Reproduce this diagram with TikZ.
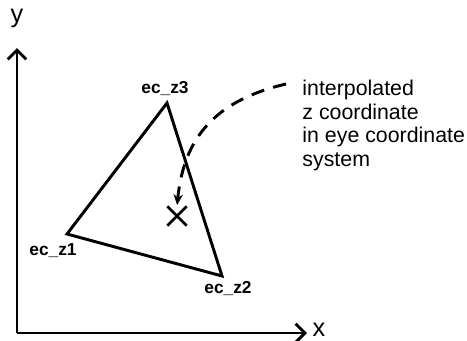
\documentclass[tikz,border=0pt]{standalone}
\usepackage{fontspec}
\setmainfont{Liberation Sans}
\usetikzlibrary{arrows.meta,positioning,calc,shapes.misc}

\begin{document}
\begin{tikzpicture}[x=0.75pt, y=-0.75pt, line width=2.2pt,
        vlabel/.style={font=\fontsize{13}{15}\selectfont\bfseries, inner sep=1pt},
        axlabel/.style={font=\fontsize{19}{21}\selectfont, inner sep=0pt}]
        \useasboundingbox (0,0) rectangle (467,340);

        % axes
        \coordinate (orig) at (17,333);
        \coordinate (xend) at (307,333);
        \coordinate (yend) at (17,48);
        \draw[-{Straight Barb[length=7pt, width=14pt]}] (orig) -- (yend);
        \draw[-{Straight Barb[length=7pt, width=14pt]}] (orig) -- (xend);
        \node[axlabel] (ylab) at (17,18) {y};
        \node[axlabel] (xlab) at (319,330) {x};

        % triangle
        \coordinate (z1) at (67,234);
        \coordinate (z2) at (222,276);
        \coordinate (z3) at (167,103);
        \draw[line join=miter] (z1) -- (z2) -- (z3) -- cycle;
        \node[vlabel] (z1lab) at (53,251) {ec\_z1};
        \node[vlabel] (z2lab) at (228,288) {ec\_z2};
        \node[vlabel] (z3lab) at (165,89) {ec\_z3};

        % interpolated point
        \node[cross out, draw, minimum size=12.5pt, inner sep=0pt, line width=2pt] (pt) at (177,216) {};

        \node[font=\fontsize{16}{17.6}\selectfont, align=left, anchor=north west, inner sep=0pt] (note) at (301,79)
            {interpolated\\z coordinate\\in eye coordinate\\system};

        \coordinate (dstart) at ($(note.north west)+(-15,5)$);
        \draw[dash pattern=on 10pt off 7pt, shorten >=1pt, -{Stealth[length=8pt, width=7pt]}]
            (dstart) .. controls (218,100) and (184,135) .. (pt.north);
    \end{tikzpicture}
\end{document}
